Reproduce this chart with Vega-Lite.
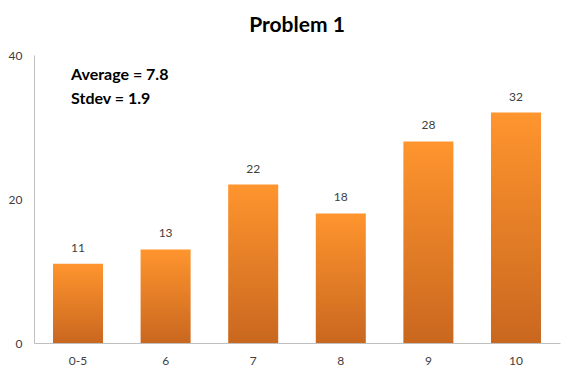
{
  "$schema": "https://vega.github.io/schema/vega-lite/v6.json",
  "width": 526,
  "height": 288,
  "autosize": {"type": "none"},
  "padding": {"left": 34, "top": 55, "right": 15, "bottom": 34},
  "background": "white",
  "config": {"view": {"stroke": null}, "font": "Lato"},
  "title": {"text": "Problem 1", "fontSize": 21, "fontWeight": "bold", "color": "#000000", "font": "Lato", "anchor": "middle", "offset": 13},
  "datasets": {
    "bars": [
      {"score": "0-5", "count": 11},
      {"score": "6", "count": 13},
      {"score": "7", "count": 22},
      {"score": "8", "count": 18},
      {"score": "9", "count": 28},
      {"score": "10", "count": 32}
    ],
    "notes": [
      {"score": "0-5", "label": "Average = 7.8", "y": 37.2},
      {"score": "0-5", "label": "Stdev = 1.9", "y": 33.9}
    ]
  },
  "layer": [
    {
      "data": {"name": "bars"},
      "mark": {
        "type": "bar",
        "color": {"gradient": "linear", "x1": 0, "y1": 0, "x2": 0, "y2": 1,
          "stops": [{"offset": 0, "color": "#FF952E"}, {"offset": 1, "color": "#C9671F"}]}
      },
      "encoding": {
        "x": {"field": "score", "type": "ordinal", "sort": null,
          "scale": {"paddingInner": 0.429, "paddingOuter": 0.217},
          "axis": {"title": null, "labelAngle": 0, "ticks": false, "domainColor": "#BFBFBF", "labelColor": "#404040", "labelFontSize": 12, "labelPadding": 12, "labelFont": "Lato"}},
        "y": {"field": "count", "type": "quantitative",
          "scale": {"domain": [0, 40]},
          "axis": {"title": null, "values": [0, 20, 40], "grid": false, "ticks": false, "domainColor": "#BFBFBF", "labelColor": "#404040", "labelFontSize": 12, "labelPadding": 12, "labelFont": "Lato"}}
      }
    },
    {
      "data": {"name": "bars"},
      "mark": {"type": "text", "baseline": "bottom", "dy": -9, "fontSize": 12, "color": "#404040", "font": "Lato"},
      "encoding": {
        "x": {"field": "score", "type": "ordinal", "sort": null},
        "y": {"field": "count", "type": "quantitative"},
        "text": {"field": "count", "type": "quantitative"}
      }
    },
    {
      "data": {"name": "notes"},
      "mark": {"type": "text", "align": "left", "baseline": "middle", "dx": 18, "fontSize": 16, "fontWeight": "bold", "color": "#000000", "font": "Lato"},
      "encoding": {
        "x": {"field": "score", "type": "ordinal", "sort": null, "bandPosition": 0},
        "y": {"field": "y", "type": "quantitative"},
        "text": {"field": "label", "type": "nominal"}
      }
    }
  ]
}
